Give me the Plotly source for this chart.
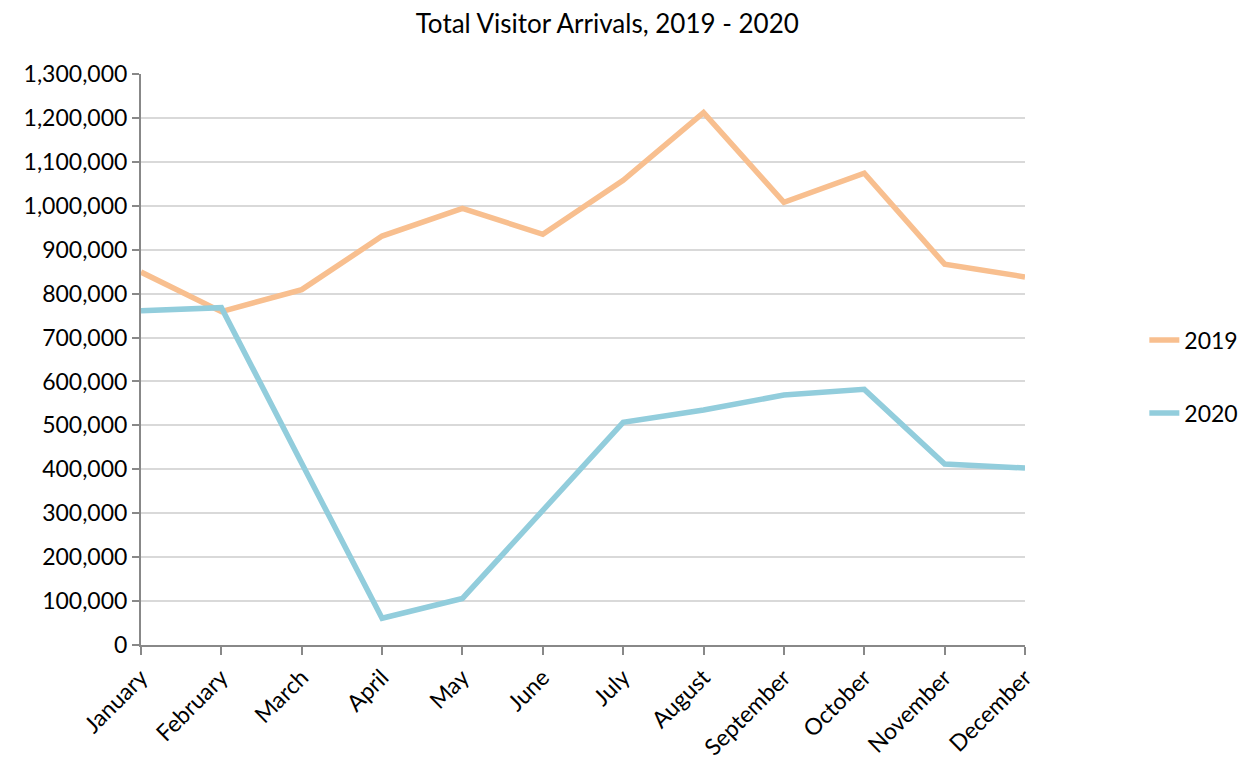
import plotly.graph_objects as go

months = ["January", "February", "March", "April", "May", "June", "July",
          "August", "September", "October", "November", "December"]
arrivals_2019 = [849000, 759000, 809000, 931000, 994000, 935000, 1058000,
                 1212000, 1008000, 1074000, 867000, 838000]
arrivals_2020 = [761000, 768000, 414000, 61000, 106000, 308000, 507000,
                 535000, 569000, 582000, 412000, 403000]
y_ticks = list(range(0, 1300001, 100000))

FONT = "Lato, 'Open Sans', sans-serif"

fig = go.Figure()
fig.add_trace(go.Scatter(x=months, y=arrivals_2019, name="2019", mode="lines",
                         legendgroup="a",
                         line=dict(color="#F8BF8F", width=5.5)))
fig.add_trace(go.Scatter(x=months, y=arrivals_2020, name="2020", mode="lines",
                         legendgroup="b",
                         line=dict(color="#92CDDC", width=5.5)))

# page body adds 8px offset, so margins are shifted accordingly
fig.update_layout(
    width=1259, height=765,
    title=dict(text="Total Visitor Arrivals, 2019 - 2020", x=0.476, xanchor="center",
               y=0.979, yanchor="middle", font=dict(family=FONT, size=26, color="#000")),
    font=dict(family=FONT, size=23, color="#000"),
    margin=dict(l=133, r=242, t=66, b=122),
    plot_bgcolor="white", paper_bgcolor="white",
    showlegend=True,
    legend=dict(x=1.135, y=0.47, xanchor="left", yanchor="middle",
                tracegroupgap=40, font=dict(size=23)),
)

fig.update_xaxes(
    range=[0, 11], tickangle=-45, showline=True, linecolor="#888888", linewidth=2,
    ticks="outside", ticklen=8, tickcolor="#888888", tickwidth=2,
    showgrid=False, zeroline=False,
)
fig.update_yaxes(
    range=[0, 1300000], tickvals=y_ticks, tickformat=",d",
    showline=True, linecolor="#888888", linewidth=2,
    ticks="outside", ticklen=7, tickcolor="#888888", tickwidth=2,
    gridcolor="#D9D9D9", gridwidth=2, zeroline=False,
)

fig.write_html("out.html")
